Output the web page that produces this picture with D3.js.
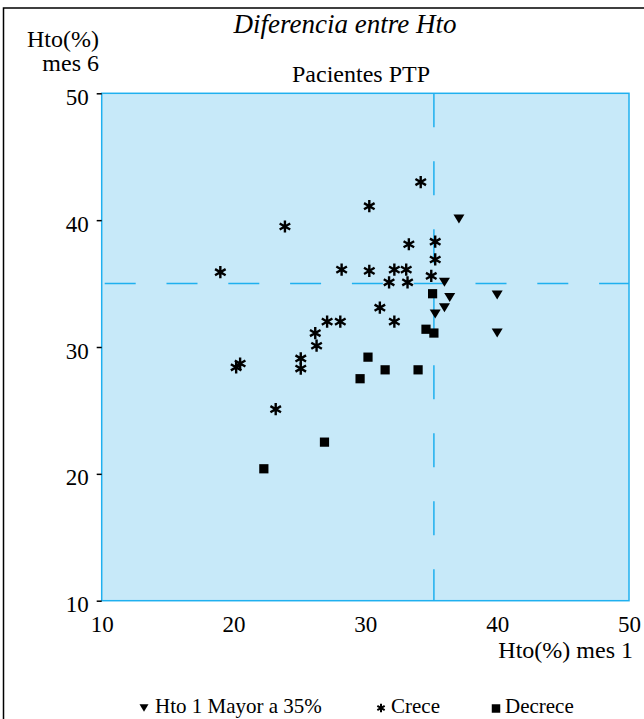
<!DOCTYPE html>
<html>
<head>
<meta charset="utf-8">
<script src="https://cdn.jsdelivr.net/npm/d3@7"></script>
<style>
  body { margin: 0; background: #fff; }
  svg text { font-family: "Liberation Serif", "Times New Roman", "DejaVu Serif", serif; fill: #000; }
</style>
</head>
<body>
<script>
// DATA
const TICKS = [10, 20, 30, 40, 50];

// "Crece" (asterisks)
const creceX = [34.2, 30.3, 23.9, 19.0, 28.2, 30.3, 32.2, 33.1, 33.3, 35.3, 35.3, 35.0, 31.8,
                33.2, 31.1, 27.1, 28.1, 32.2, 26.2, 26.3, 25.1, 25.1, 20.5, 20.2, 23.2];
const creceY = [43.0, 41.1, 39.5, 35.9, 36.1, 36.0, 36.1, 36.1, 38.1, 38.3, 36.9, 35.6, 35.1,
                35.1, 33.1, 32.0, 32.0, 32.0, 31.1, 30.1, 29.1, 28.3, 28.7, 28.4, 25.1];

// "Hto 1 Mayor a 35%" (down triangles)
const mayorX = [37.1, 36.0, 40.0, 36.4, 36.0, 35.3, 40.0];
const mayorY = [40.1, 35.1, 34.1, 33.9, 33.1, 32.6, 31.1];

// "Decrece" (squares)
const decreceX = [35.1, 34.6, 35.2, 30.2, 31.5, 29.6, 34.0, 26.9, 22.3];
const decreceY = [34.2, 31.4, 31.1, 29.2, 28.2, 27.5, 28.2, 22.5, 20.4];

// reference lines
const CUT_X = 35.2;
const CUT_Y = 35;

const WIDTH = 644, HEIGHT = 719;
const PLOT = { left: 101.7, right: 629, top: 93.3, bottom: 600.7 };
const BLUE = "#1fb0ef";
const FILL = "#c7e9f9";
const SERIF = "'Liberation Serif', 'Times New Roman', 'DejaVu Serif', serif";

const svg = d3.select("body").append("svg")
  .attr("width", WIDTH)
  .attr("height", HEIGHT)
  .style("font-family", SERIF);

const x = d3.scaleLinear().domain([10, 50]).range([PLOT.left, PLOT.right]);
const y = d3.scaleLinear().domain([10, 50]).range([PLOT.bottom, PLOT.top]);

// OUTER FRAME (right / bottom run off the picture)
svg.append("rect")
  .attr("x", 3.5)
  .attr("y", 8)
  .attr("width", 800)
  .attr("height", 900)
  .style("fill", "none")
  .style("stroke", "#000")
  .style("stroke-width", 1.5);

// TITLES
svg.append("text")
  .attr("x", 345)
  .attr("y", 33)
  .attr("text-anchor", "middle")
  .style("font-family", SERIF)
  .style("font-size", "27px")
  .style("font-style", "italic")
  .text("Diferencia entre Hto");

svg.append("text")
  .attr("x", 361)
  .attr("y", 82)
  .attr("text-anchor", "middle")
  .style("font-family", SERIF)
  .style("font-size", "24px")
  .text("Pacientes PTP");

// PLOT BACKGROUND
svg.append("rect")
  .attr("x", x(10))
  .attr("y", y(50))
  .attr("width", x(50) - x(10))
  .attr("height", y(10) - y(50))
  .style("fill", FILL)
  .style("stroke", BLUE)
  .style("stroke-width", 1.5);

// DASHED CUT LINES
svg.append("line")
  .attr("x1", x(10)).attr("x2", x(50))
  .attr("y1", y(CUT_Y)).attr("y2", y(CUT_Y))
  .style("stroke", BLUE)
  .style("stroke-width", 1.5)
  .style("stroke-dasharray", "31,30.8")
  .style("stroke-dashoffset", 58.8);

svg.append("line")
  .attr("x1", x(CUT_X)).attr("x2", x(CUT_X))
  .attr("y1", y(50)).attr("y2", y(10))
  .style("stroke", BLUE)
  .style("stroke-width", 1.5)
  .style("stroke-dasharray", "34,34");

// AXES
const yAxis = svg.append("g")
  .attr("transform", `translate(${PLOT.left},0)`)
  .call(d3.axisLeft(y).tickValues(TICKS).tickSize(5).tickPadding(8));
yAxis.attr("font-family", null);
yAxis.select(".domain").remove();
yAxis.selectAll("line").style("stroke", "#000").style("stroke-width", 1.5);
yAxis.selectAll("text")
  .attr("dy", "0.48em")
  .style("font-size", "23px")
  .style("font-family", SERIF);

const xAxis = svg.append("g")
  .attr("transform", `translate(0,${PLOT.bottom})`)
  .call(d3.axisBottom(x).tickValues(TICKS).tickSize(0).tickPadding(15));
xAxis.attr("font-family", null);
xAxis.select(".domain").remove();
xAxis.selectAll("text")
  .style("font-size", "23px")
  .style("font-family", SERIF);

// AXIS TITLES
svg.append("text")
  .attr("x", 99).attr("y", 47)
  .attr("text-anchor", "end")
  .style("font-family", SERIF)
  .style("font-size", "24px")
  .text("Hto(%)");
svg.append("text")
  .attr("x", 99).attr("y", 71)
  .attr("text-anchor", "end")
  .style("font-family", SERIF)
  .style("font-size", "24px")
  .text("mes 6");
svg.append("text")
  .attr("x", 633).attr("y", 658)
  .attr("text-anchor", "end")
  .style("font-family", SERIF)
  .style("font-size", "24px")
  .text("Hto(%) mes 1");

// MARKERS
const star = d3.symbol().type(d3.symbolAsterisk).size(105);
const square = d3.symbol().type(d3.symbolSquare).size(85);
const triDown = (w, h) => `M${-w / 2},${-h / 2}L${w / 2},${-h / 2}L0,${h / 2}Z`;

svg.append("g").selectAll("path")
  .data(d3.range(creceX.length))
  .join("path")
  .attr("transform", i => `translate(${x(creceX[i])},${y(creceY[i])})`)
  .attr("d", star)
  .style("fill", "none")
  .style("stroke", "#000")
  .style("stroke-width", 2.4);

svg.append("g").selectAll("path")
  .data(d3.range(mayorX.length))
  .join("path")
  .attr("transform", i => `translate(${x(mayorX[i])},${y(mayorY[i])})`)
  .attr("d", triDown(11, 9))
  .style("fill", "#000");

svg.append("g").selectAll("path")
  .data(d3.range(decreceX.length))
  .join("path")
  .attr("transform", i => `translate(${x(decreceX[i])},${y(decreceY[i])})`)
  .attr("d", square)
  .style("fill", "#000");

// LEGEND
const legend = svg.append("g").style("font-family", SERIF);
legend.append("path")
  .attr("transform", "translate(144,708)")
  .attr("d", triDown(9, 7.5))
  .style("fill", "#000");
legend.append("text")
  .attr("x", 155).attr("y", 713)
  .style("font-family", SERIF)
  .style("font-size", "21px")
  .text("Hto 1 Mayor a 35%");

legend.append("path")
  .attr("transform", "translate(381,708)")
  .attr("d", d3.symbol().type(d3.symbolAsterisk).size(50))
  .style("fill", "none")
  .style("stroke", "#000")
  .style("stroke-width", 2);
legend.append("text")
  .attr("x", 391).attr("y", 713)
  .style("font-family", SERIF)
  .style("font-size", "21px")
  .text("Crece");

legend.append("path")
  .attr("transform", "translate(496,708.5)")
  .attr("d", d3.symbol().type(d3.symbolSquare).size(72))
  .style("fill", "#000");
legend.append("text")
  .attr("x", 505).attr("y", 713)
  .style("font-family", SERIF)
  .style("font-size", "21px")
  .text("Decrece");
</script>
</body>
</html>
